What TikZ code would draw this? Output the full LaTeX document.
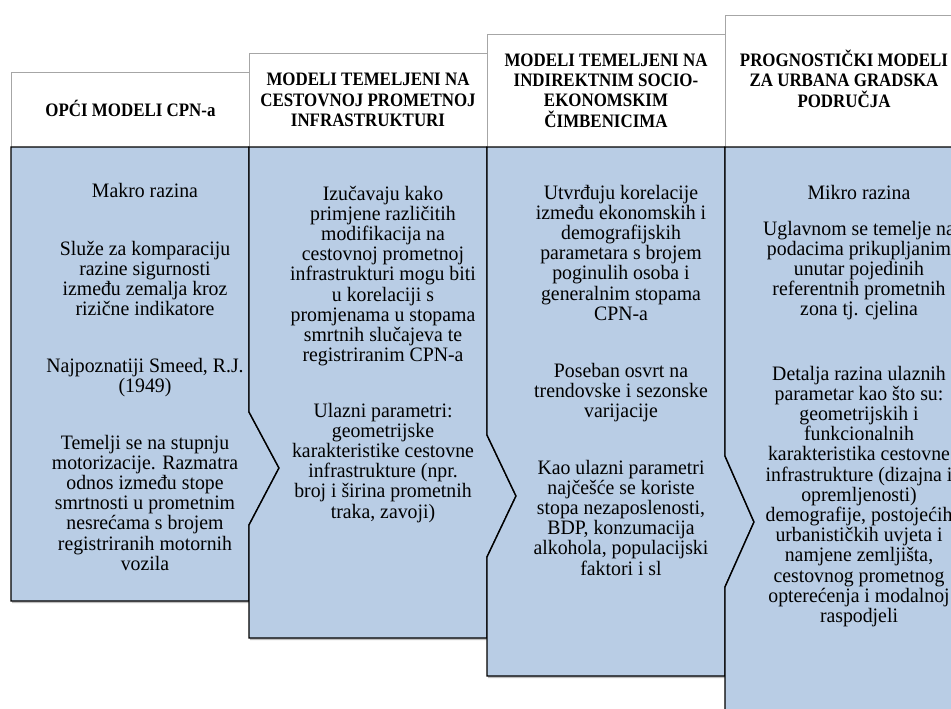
\documentclass[tikz,border=0pt]{standalone}
\usepackage{fontspec}
\setmainfont{Liberation Serif}
\newfontfamily\bdfont[FakeStretch=0.965]{Liberation Serif}
\newfontfamily\hdfont[FakeStretch=0.89]{Liberation Serif}
\usetikzlibrary{shadows}
\definecolor{bodyblue}{HTML}{B9CDE5}
\definecolor{hdline}{HTML}{A6A6A6}
\newcommand\bstrut{\rule{0pt}{18pt}}
\newcommand\bodyfnt{\bdfont\fontsize{20.5}{20.2}\selectfont\lineskiplimit=-100pt\relax}
\newcommand\hdfnt{\hdfont\bfseries\fontsize{19}{20.3}\selectfont\lineskiplimit=-100pt\relax}
\begin{document}
\begin{tikzpicture}[x=1pt,y=-1pt,
  shd/.style={drop shadow={shadow xshift=1.2pt,shadow yshift=-2pt,opacity=0.25,fill=black}},
  hdbox/.style={fill=white,draw=hdline,line width=0.8pt,shd},
  bodybox/.style={fill=bodyblue,draw=black,line width=1.4pt,line join=miter,shd},
  bodytxt/.style={anchor=north,inner sep=0pt,align=center,font=\bodyfnt},
  hdtxt/.style={anchor=north,inner sep=0pt,align=center,font=\hdfnt}]
\useasboundingbox (0,0) rectangle (951,709);

% column 1
\path[hdbox] (11,72) rectangle (250,147);
\path[bodybox] (11,147) -- (249,147) -- (249,412) -- (279,468) -- (249,525) -- (249,601) -- (11,601) -- cycle;
% column 2
\path[hdbox] (249,53) rectangle (487,147);
\path[bodybox] (249,147) -- (487,147) -- (487,435) -- (516,496) -- (487,557) -- (487,638) -- (249,638) -- (249,525) -- (279,468) -- (249,412) -- cycle;
% column 3
\path[hdbox] (487,34) rectangle (725,147);
\path[bodybox] (487,147) -- (725,147) -- (725,456) -- (754,522) -- (725,587) -- (725,676) -- (487,676) -- (487,557) -- (516,496) -- (487,435) -- cycle;
% column 4
\path[hdbox] (725,15) rectangle (963,147);
\path[bodybox] (725,147) -- (963,147) -- (963,730) -- (725,730) -- (725,587) -- (754,522) -- (725,456) -- cycle;

% headers
\node[hdtxt] (h1) at (130.5,98.8) {\bstrut OPĆI MODELI CPN-a};
\node[hdtxt] (h2) at (368,67.5) {\bstrut MODELI TEMELJENI NA\\CESTOVNOJ PROMETNOJ\\INFRASTRUKTURI};
\node[hdtxt] (h3) at (606,48) {\bstrut MODELI TEMELJENI NA\\INDIREKTNIM SOCIO-\\EKONOMSKIM\\ČIMBENICIMA};
\node[hdtxt] (h4) at (844,48.3) {\bstrut PROGNOSTIČKI MODELI\\ZA URBANA GRADSKA\\PODRUČJA};

% column 1 texts
\node[bodytxt] (b11) at (145,178.8) {\bstrut Makro razina};
\node[bodytxt] (b12) at (145,236.8) {\bstrut Služe za komparaciju\\razine sigurnosti\\između zemalja kroz\\rizične indikatore};
\node[bodytxt] (b13) at (145,353.8) {\bstrut Najpoznatiji Smeed, R.J.\\(1949)};
\node[bodytxt] (b14) at (145,430.8) {\bstrut Temelji se na stupnju\\motorizacije. Razmatra\\odnos između stope\\smrtnosti u prometnim\\nesrećama s brojem\\registriranih motornih\\vozila};

% column 2 texts
\node[bodytxt] (b21) at (383,181.8) {\bstrut Izučavaju kako\\primjene različitih\\modifikacija na\\cestovnoj prometnoj\\infrastrukturi mogu biti\\u korelaciji s\\promjenama u stopama\\smrtnih slučajeva te\\registriranim CPN-a};
\node[bodytxt] (b22) at (383,398.8) {\bstrut Ulazni parametri:\\geometrijske\\karakteristike cestovne\\infrastrukture (npr.\\broj i širina prometnih\\traka, zavoji)};

% column 3 texts
\node[bodytxt] (b31) at (621,180.8) {\bstrut Utvrđuju korelacije\\između ekonomskih i\\demografijskih\\parametara s brojem\\poginulih osoba i\\generalnim stopama\\CPN-a};
\node[bodytxt] (b32) at (621,358.8) {\bstrut Poseban osvrt na\\trendovske i sezonske\\varijacije};
\node[bodytxt] (b33) at (621,455.8) {\bstrut Kao ulazni parametri\\najčešće se koriste\\stopa nezaposlenosti,\\BDP, konzumacija\\alkohola, populacijski\\faktori i sl};

% column 4 texts
\node[bodytxt] (b41) at (859,180.8) {\bstrut Mikro razina};
\node[bodytxt] (b42) at (859,216.8) {\bstrut Uglavnom se temelje na\\podacima prikupljanim\\unutar pojedinih\\referentnih prometnih\\zona tj. cjelina};
\node[bodytxt] (b43) at (859,361.8) {\bstrut Detalja razina ulaznih\\parametar kao što su:\\geometrijskih i\\funkcionalnih\\karakteristika cestovne\\infrastrukture (dizajna i\\opremljenosti)\\demografije, postojećih\\urbanističkih uvjeta i\\namjene zemljišta,\\cestovnog prometnog\\opterećenja i modalnoj\\raspodjeli};
\end{tikzpicture}
\end{document}
